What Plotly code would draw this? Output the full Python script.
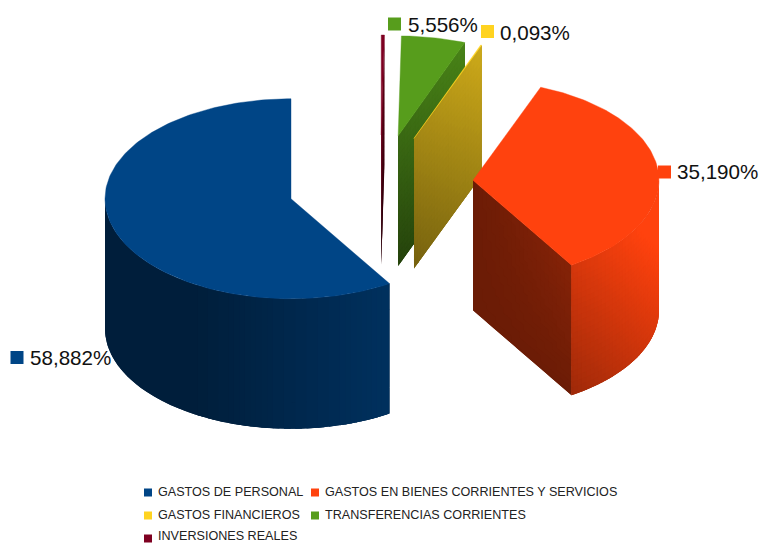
import math
import plotly.graph_objects as go

# ---- data ----
categories = ["GASTOS DE PERSONAL", "GASTOS EN BIENES CORRIENTES Y SERVICIOS",
              "GASTOS FINANCIEROS", "TRANSFERENCIAS CORRIENTES", "INVERSIONES REALES"]
shares = [58.882, 35.190, 0.093, 5.556, 0.279]
labelled = [0, 1, 2, 3]   # the thinnest maroon slice carries no data label

# ---- style ----
colors = ["#004586", "#ff420e", "#ffd320", "#579d1c", "#7e0021"]
FONT = "Liberation Sans"
CX, CY = 380.4, 185.0      # pie centre on the canvas
RX, RY = 186.0, 100.0      # ellipse radii of the top face
DEPTH = 130.0              # extrusion height
PULL = 0.50                # explosion as a fraction of the radius

# data label placement: square x, y, text x, text y
label_pos = {0: (17, 357.5, 30, 359.5), 1: (664.5, 172, 677, 173.5), 2: (487.5, 31.5, 500, 34.5), 3: (394.5, 24, 408, 26.5)}
# legend placement: square x, text x, square y, text y
legend_rows = [(148, 158, 492.5, 493.3), (315, 325, 492.5, 493.3), (148, 158, 515.5, 516.3),
               (315, 325, 515.5, 516.3), (148, 158, 538.5, 537.0)]


def clip(v):
    return max(0.0, min(1.0, v))


# wall shading (multiplier of the base colour), u along the wall, v downwards
def shade_blue(px, py, u, v):
    return 0.44 + 0.26 * clip((px - 200) / 190)


def shade_red_outer(px, py, u, v):
    return 0.82 + (px - 573) / 82 * 0.13 - (py - 270) / 120 * 0.2


def shade_red_cut(px, py, u, v):
    return 0.42 + 0.1 * u * (1 - v)


def shade_yellow(px, py, u, v):
    return 0.45 + 0.18 * (1 - v) + 0.17 * u


def shade_green(px, py, u, v):
    return 0.41 + 0.25 * (1 - v) + 0.17 * u


def shade_maroon(px, py, u, v):
    return 0.25 + 0.7 * (1 - v)


def tint(hexcolor, m):
    r, g, b = (int(hexcolor[i:i + 2], 16) for i in (1, 3, 5))
    m = clip(m)
    return f"rgb({round(r * m)},{round(g * m)},{round(b * m)})"


# slice geometry derived from the values
total = sum(shares)
slices = []
acc = 0.0
for val in shares:
    a0 = acc / total * 2 * math.pi
    acc += val
    a1 = acc / total * 2 * math.pi
    mid = (a0 + a1) / 2
    ox = CX - PULL * RX * math.sin(mid)
    oy = CY - PULL * RY * math.cos(mid)
    slices.append((a0, a1, ox, oy))


def rim(ox, oy, a):
    return ox - RX * math.sin(a), oy - RY * math.cos(a)


fig = go.Figure()
buckets = {}


def add_quad(color, xs, ys):
    b = buckets.setdefault(color, ([], []))
    b[0].extend(xs + [xs[0], None])
    b[1].extend(ys + [ys[0], None])


def solid(xs, ys, color, width=0.0):
    fig.add_trace(go.Scatter(x=xs, y=ys, mode="lines", fill="toself", fillcolor=color,
                             line=dict(color=color, width=width), hoverinfo="skip", showlegend=False))


def flush():
    for color in sorted(buckets):
        xs, ys = buckets[color]
        solid(xs, ys, color)
    buckets.clear()


def cut_wall(i, angle, shade, under, nu=24, nv=24):
    _, _, ox, oy = slices[i]
    ex, ey = rim(ox, oy, angle)
    solid([ox, ex, ex, ox, ox], [oy, ey, ey + DEPTH, oy + DEPTH, oy], tint(colors[i], under))
    for a in range(nu):
        for b in range(nv):
            u0, u1 = max(0, (a - 0.6) / nu), min(1, (a + 1.6) / nu)
            v0, v1 = max(0, (b - 0.6) / nv), min(1, (b + 1.6) / nv)
            pts = [(u0, v0), (u1, v0), (u1, v1), (u0, v1)]
            xs = [ox + (ex - ox) * p for p, q in pts]
            ys = [oy + (ey - oy) * p + DEPTH * q for p, q in pts]
            um, vm = (a + 0.5) / nu, (b + 0.5) / nv
            px, py = ox + (ex - ox) * um, oy + (ey - oy) * um + DEPTH * vm
            m = round(shade(px, py, um, vm) * 200) / 200
            add_quad(tint(colors[i], m), xs, ys)


def outer_wall(i, a_from, a_to, shade, under, nu=40, nv=10):
    _, _, ox, oy = slices[i]
    n = 120
    uxs, uys = [], []
    for k in range(n + 1):
        x, y = rim(ox, oy, a_from + (a_to - a_from) * k / n)
        uxs.append(x)
        uys.append(y)
    solid(uxs + uxs[::-1] + uxs[:1], uys + [y + DEPTH for y in uys[::-1]] + uys[:1], tint(colors[i], under))
    for a in range(nu):
        f0, f1 = max(0, (a - 0.6) / nu), min(1, (a + 1.6) / nu)
        t0, t1 = a_from + (a_to - a_from) * f0, a_from + (a_to - a_from) * f1
        x0, y0 = rim(ox, oy, t0)
        x1, y1 = rim(ox, oy, t1)
        xc, yc = rim(ox, oy, a_from + (a_to - a_from) * (a + 0.5) / nu)
        for b in range(nv):
            v0, v1 = max(0, (b - 0.6) / nv), min(1, (b + 1.6) / nv)
            xs = [x0, x1, x1, x0]
            ys = [y0 + DEPTH * v0, y1 + DEPTH * v0, y1 + DEPTH * v1, y0 + DEPTH * v1]
            vm = (b + 0.5) / nv
            m = round(shade(xc, yc + DEPTH * vm, (a + 0.5) / nu, vm) * 200) / 200
            add_quad(tint(colors[i], m), xs, ys)


def top_face(i):
    a0, a1, ox, oy = slices[i]
    n = max(2, int((a1 - a0) / 0.02))
    xs, ys = [ox], [oy]
    for k in range(n + 1):
        x, y = rim(ox, oy, a0 + (a1 - a0) * k / n)
        xs.append(x)
        ys.append(y)
    xs.append(ox)
    ys.append(oy)
    solid(xs, ys, colors[i], 0.4)


# back to front: maroon, green, yellow, blue, red
cut_wall(4, slices[4][0], shade_maroon, 0.6, nu=2, nv=30)
flush(); top_face(4)
cut_wall(3, slices[3][0], shade_green, 0.6)
flush(); top_face(3)
cut_wall(2, slices[2][0], shade_yellow, 0.6)
flush(); top_face(2)
outer_wall(0, math.pi / 2, slices[0][1], shade_blue, 0.5, nu=70, nv=2)
flush(); top_face(0)
cut_wall(1, slices[1][0], shade_red_cut, 0.45)
flush()
outer_wall(1, slices[1][0], 3 * math.pi / 2, shade_red_outer, 0.75, nu=36, nv=24)
flush(); top_face(1)

# data labels
for i in labelled:
    sx, sy, tx, ty = label_pos[i]
    label = f"{shares[i]:.3f}".replace(".", ",") + "%"
    fig.add_trace(go.Scatter(x=[sx], y=[sy], mode="markers",
                             marker=dict(symbol="square", size=13, color=colors[i], line=dict(width=0)),
                             hoverinfo="skip", showlegend=False))
    fig.add_trace(go.Scatter(x=[tx], y=[ty], mode="text", text=[label], textposition="middle right",
                             textfont=dict(family=FONT, size=20.6, color="#111111"), cliponaxis=False,
                             hoverinfo="skip", showlegend=False))

# legend
for i, (sx, tx, sy, ty) in enumerate(legend_rows):
    fig.add_trace(go.Scatter(x=[sx], y=[sy], mode="markers",
                             marker=dict(symbol="square", size=8, color=colors[i], line=dict(width=0)),
                             hoverinfo="skip", showlegend=False))
    fig.add_trace(go.Scatter(x=[tx], y=[ty], mode="text", text=[categories[i]], textposition="middle right",
                             textfont=dict(family=FONT, size=12.6, color="#222222"), cliponaxis=False,
                             hoverinfo="skip", showlegend=False))

fig.update_layout(
    width=759, height=544, autosize=False,
    margin=dict(l=0, r=0, t=0, b=0),
    paper_bgcolor="#ffffff", plot_bgcolor="#ffffff",
    xaxis=dict(range=[0, 759], visible=False, fixedrange=True),
    yaxis=dict(range=[544, 0], visible=False, fixedrange=True),
)
fig.write_html("out.html", config={"displayModeBar": False},
               post_script="document.body.style.margin='0';document.body.style.overflow='hidden';")
